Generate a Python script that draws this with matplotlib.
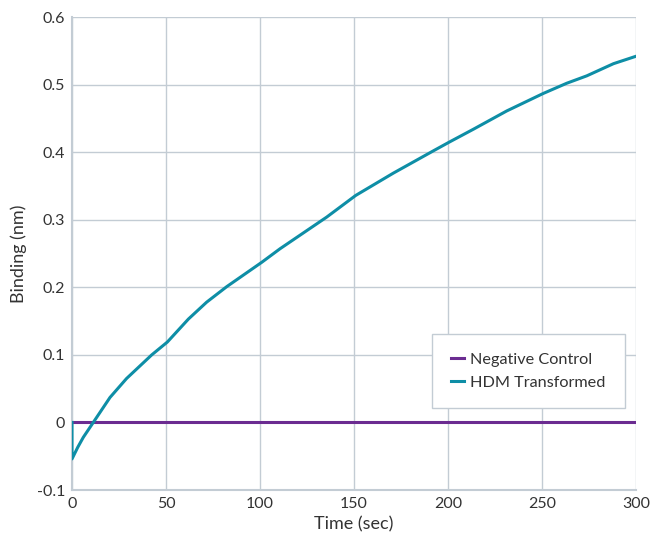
import matplotlib

matplotlib.use("Agg")
import matplotlib.pyplot as plt

plt.rcParams["font.family"] = ["Lato", "DejaVu Sans"]

# data
time_sec = [0, 0, 3, 6, 11.3, 20.2, 29, 42.4, 50.7, 61.9, 71.6, 82.3, 100.9, 110.6,
            135.5, 150.9, 170.9, 192.2, 200.7, 213.5, 231.2, 250.7, 263.1, 273.8, 288, 300]
hdm_binding = [0.0, -0.054, -0.037, -0.022, 0.0, 0.037, 0.065, 0.100, 0.119, 0.153, 0.178,
               0.201, 0.237, 0.257, 0.304, 0.336, 0.369, 0.402, 0.415, 0.434, 0.461,
               0.487, 0.502, 0.513, 0.531, 0.542]
neg_time = [0, 300]
neg_binding = [0.0, 0.0]

x_ticks = [0, 50, 100, 150, 200, 250, 300]
y_ticks = [-0.1, 0, 0.1, 0.2, 0.3, 0.4, 0.5, 0.6]
y_labels = ["-0.1", "0", "0.1", "0.2", "0.3", "0.4", "0.5", "0.6"]

grid_col = "#c3ccd4"
text_col = "#333333"

fig = plt.figure(figsize=(6.5, 5.35), dpi=100)
ax = fig.add_axes([0.1108, 0.0841, 0.8677, 0.884])

ax.plot(neg_time, neg_binding, color="#6b2c91", lw=2.2, label="Negative Control", zorder=3)
ax.plot(time_sec, hdm_binding, color="#0e8ea6", lw=2.2, label="HDM Transformed", zorder=4)

ax.set_xlim(0, 300)
ax.set_ylim(-0.1, 0.6)
ax.set_xticks(x_ticks)
ax.set_yticks(y_ticks)
ax.set_yticklabels(y_labels)
ax.grid(True, color=grid_col, lw=1)
ax.set_axisbelow(True)
for side in ("top", "right"):
    ax.spines[side].set_visible(False)
for side in ("left", "bottom"):
    ax.spines[side].set_color(grid_col)
    ax.spines[side].set_linewidth(1.5)
ax.tick_params(length=0, labelsize=11.5, colors=text_col, pad=5)

ax.set_xlabel("Time (sec)", fontsize=13, color=text_col, labelpad=4)
ax.set_ylabel("Binding (nm)", fontsize=13, color=text_col, labelpad=7)

leg = ax.legend(loc="lower left", bbox_to_anchor=(0.638, 0.173, 0.342, 0), mode="expand",
                fontsize=11.7, handlelength=0.85, handletextpad=0.35, borderpad=1.15,
                borderaxespad=0, fancybox=False, framealpha=1, labelspacing=0.5)
leg.get_frame().set_edgecolor(grid_col)
for t in leg.get_texts():
    t.set_color(text_col)

fig.savefig("out.png", dpi=100)
